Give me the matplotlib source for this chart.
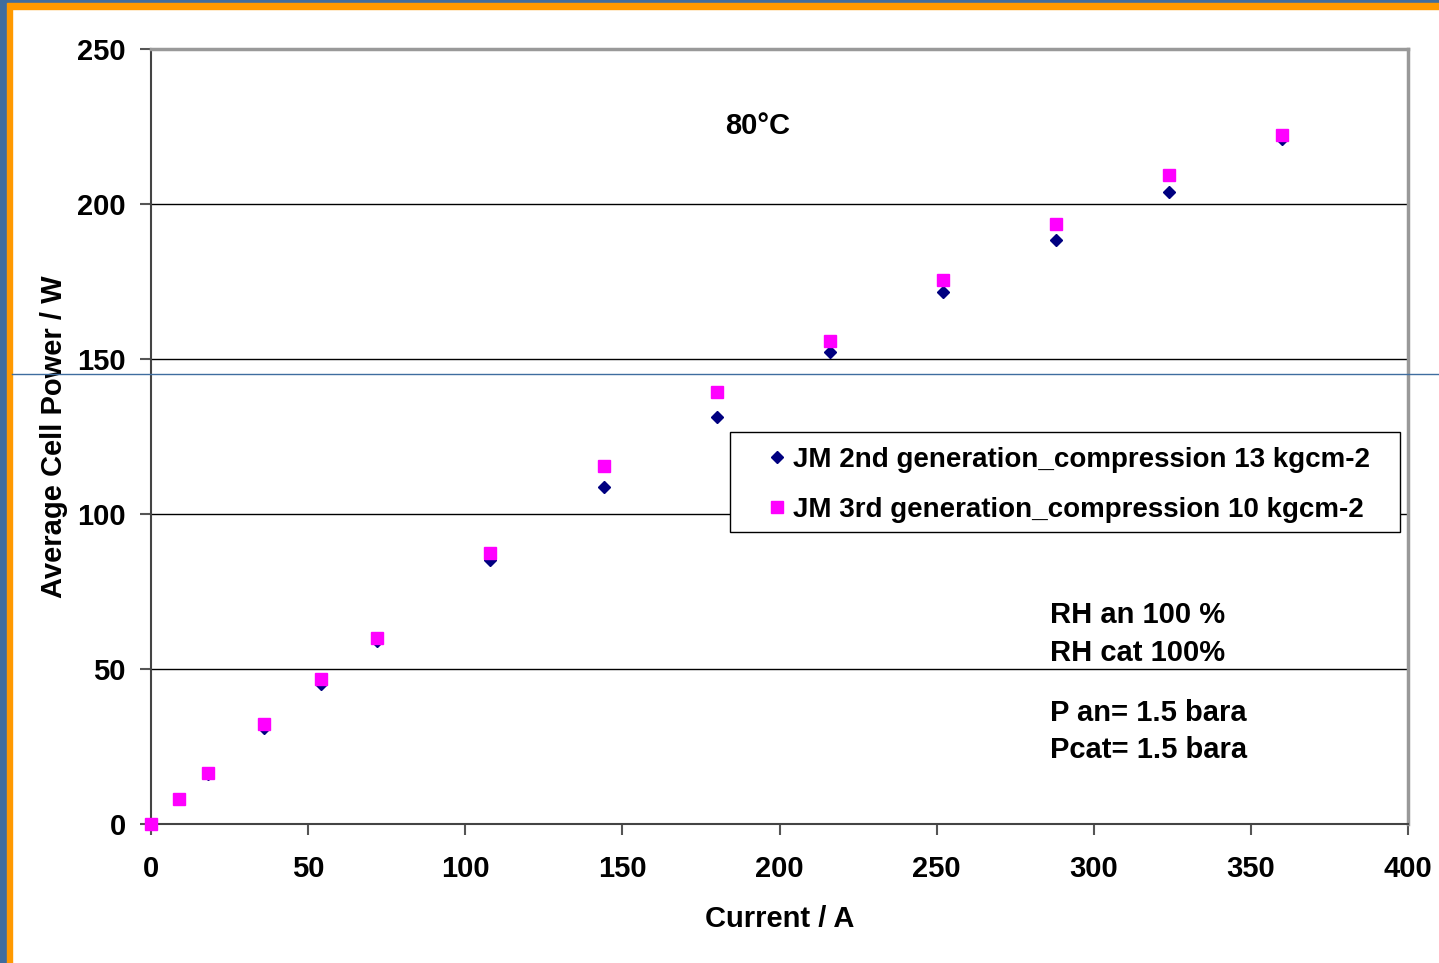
import numpy as np
import matplotlib.pyplot as plt
from matplotlib.patches import Rectangle
from matplotlib.lines import Line2D

plt.rcParams['font.family'] = ['Liberation Sans', 'DejaVu Sans']
plt.rcParams['font.weight'] = 'bold'

current = [0, 9, 18, 36, 54, 72, 108, 144, 180, 216, 252, 288, 324, 360]
power_2nd = [0, 8, 16, 31, 45.2, 59, 85.2, 108.7, 131.3, 152.3, 171.6, 188.4, 203.9, 221]
power_3rd = [0, 8.1, 16.5, 32.3, 46.8, 60, 87.4, 115.5, 139.4, 155.8, 175.5, 193.5, 209.4, 222.3]
label_2nd = 'JM 2nd generation_compression 13 kgcm-2'
label_3rd = 'JM 3rd generation_compression 10 kgcm-2'

W, H = 1439, 963
fig = plt.figure(figsize=(W/100, H/100), dpi=100)
ax = fig.add_axes([151/W, 1-824/H, (1408-151)/W, (824-49)/H])

# slide frame
blue = '#3f6d9f'
orange = '#ff9900'
fig.add_artist(Rectangle((0, 0), 7/W, 1, transform=fig.transFigure, color=blue, zorder=0))
fig.add_artist(Rectangle((7/W, 0), 5/W, 1-9/H, transform=fig.transFigure, color=orange, zorder=0))
fig.add_artist(Rectangle((0, 1-3/H), 1, 3/H, transform=fig.transFigure, color=blue, zorder=0))
fig.add_artist(Rectangle((7/W, 1-9/H), 1, 6/H, transform=fig.transFigure, color=orange, zorder=0))

ax.plot(current, power_3rd, 's', color='#ff00ff', markersize=9, label=label_3rd, zorder=3, clip_on=False)
ax.plot(current, power_2nd, 'D', color='#000080', markersize=6.5, label=label_2nd, zorder=2, clip_on=False)

ax.set_xlim(0, 400)
ax.set_ylim(0, 250)
ax.set_xticks(np.arange(0, 401, 50))
ax.set_yticks(np.arange(0, 251, 50))
ax.tick_params(labelsize=21, direction='out', length=8, width=1.5, color='#555555')
ax.tick_params(axis='x', pad=14)
ax.tick_params(axis='y', pad=10)
ax.yaxis.grid(True, color='black', linewidth=1)
ax.set_axisbelow(True)
for s in ['top', 'right']:
    ax.spines[s].set_color('#999999')
    ax.spines[s].set_linewidth(2.5)
for s in ['left', 'bottom']:
    ax.spines[s].set_color('#444444')
    ax.spines[s].set_linewidth(1.5)

ax.set_xlabel('Current / A', fontsize=21, fontweight='bold', labelpad=16)
ax.set_ylabel('Average Cell Power / W', fontsize=21, fontweight='bold', labelpad=7)

ax.text(193, 225, '80°C', fontsize=21, fontweight='bold', ha='center', va='center')
ax.text(286, 67.5, 'RH an 100 %', fontsize=21, fontweight='bold', va='center')
ax.text(286, 55.2, 'RH cat 100%', fontsize=21, fontweight='bold', va='center')
ax.text(286, 35.8, 'P an= 1.5 bara', fontsize=21, fontweight='bold', va='center')
ax.text(286, 23.9, 'Pcat= 1.5 bara', fontsize=21, fontweight='bold', va='center')

# legend box drawn separately so the inner padding can differ per side
ax.add_patch(Rectangle(((730-151)/1257, (824-532)/775), 670/1257, 100/775,
                       transform=ax.transAxes, facecolor='white', edgecolor='black',
                       linewidth=1, zorder=4, clip_on=False))
h, l = ax.get_legend_handles_labels()
leg = ax.legend(h[::-1], l[::-1], loc='upper left', bbox_to_anchor=((769-151)/1257, (824-447)/775),
                fontsize=20, frameon=False, handlelength=0.6, handletextpad=0.26,
                borderpad=0, labelspacing=0.85, borderaxespad=0)
leg.set_zorder(5)

fig.add_artist(Line2D([12/W, 1], [1-374/H, 1-374/H], transform=fig.transFigure,
                      color=blue, linewidth=1, zorder=10))

fig.savefig('out.png', dpi=100)
